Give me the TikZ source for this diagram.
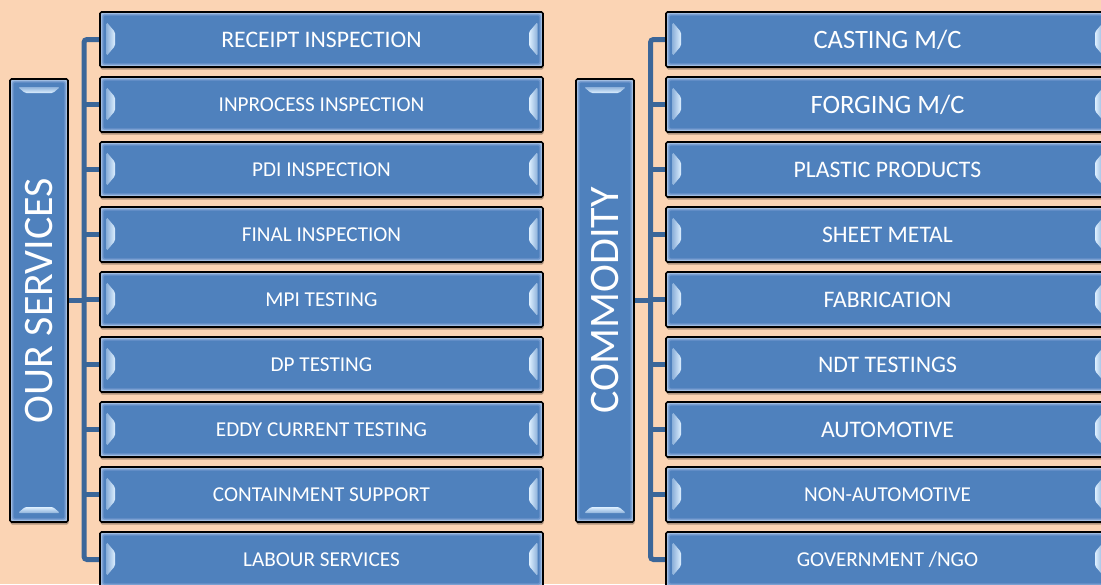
\documentclass[tikz,border=0pt]{standalone}
\usepackage{fontspec}
\setmainfont{Carlito}
\usepackage{graphicx}
\usetikzlibrary{shadows,calc}
\pgfdeclarelayer{backl}
\pgfdeclarelayer{connl}
\pgfsetlayers{backl,connl,main}
\definecolor{bg}{HTML}{FBD4B4}
\definecolor{boxblue}{HTML}{4F81BD}
\definecolor{rimA}{HTML}{B9CFEB}
\definecolor{rimB}{HTML}{93B2DC}
\definecolor{rimC}{HTML}{6D95CB}
\definecolor{hilite}{HTML}{DDEFFF}
\definecolor{connc}{HTML}{3B6699}
\newcommand\boxrim{%
  \coordinate (SW) at (path picture bounding box.south west);
  \coordinate (NE) at (path picture bounding box.north east);
  \coordinate (NW) at (SW |- NE);
  \coordinate (SE) at (NE |- SW);
  \fill[rimA] (SW) rectangle (NE);
  \fill[rimB] ($(SW)+(1.3pt,1.3pt)$) rectangle ($(NE)+(-1.3pt,-1.3pt)$);
  \fill[rimC] ($(SW)+(2.4pt,2.4pt)$) rectangle ($(NE)+(-2.4pt,-2.4pt)$);
  \fill[boxblue] ($(SW)+(3.6pt,3.6pt)$) rectangle ($(NE)+(-3.6pt,-3.6pt)$);
}
\newcommand\hbevel{%
  \shade[left color=hilite!45!boxblue, right color=hilite]
    ($(NW)+(6.5pt,-10pt)$) -- ($(NW)+(15pt,-20pt)$) -- ($(SW)+(15pt,21pt)$) -- ($(SW)+(6.5pt,11pt)$) -- cycle;
  \shade[left color=hilite, right color=hilite!45!boxblue]
    ($(NE)+(-5.5pt,-10pt)$) -- ($(NE)+(-14pt,-20pt)$) -- ($(SE)+(-14pt,21pt)$) -- ($(SE)+(-5.5pt,11pt)$) -- cycle;
}
\newcommand\vbevel{%
  \shade[top color=hilite!45!boxblue, bottom color=hilite]
    ($(NW)+(8pt,-8pt)$) -- ($(NE)+(-8pt,-8pt)$) -- ($(NE)+(-15pt,-14pt)$) -- ($(NW)+(15pt,-14pt)$) -- cycle;
  \shade[top color=hilite, bottom color=hilite!45!boxblue]
    ($(SW)+(8pt,9pt)$) -- ($(SE)+(-8pt,9pt)$) -- ($(SE)+(-15pt,15pt)$) -- ($(SW)+(15pt,15pt)$) -- cycle;
}
\tikzset{
  basebox/.style={draw=black, line width=1.6pt, rounded corners=1.5pt, fill=boxblue,
    text=white, inner sep=0pt,
    drop shadow={shadow xshift=0.5pt, shadow yshift=-2.5pt, opacity=0.3, fill=black}},
  hbox/.style={basebox, minimum width=443pt, minimum height=55pt,
    path picture={\boxrim\hbevel}},
  vbox/.style={basebox, minimum width=58pt, minimum height=443pt,
    path picture={\boxrim\vbevel}},
  conn/.style={draw=connc, line width=5pt, rounded corners=3pt},
  fA/.style={font=\fontsize{21.2}{25}\selectfont},
  fB/.style={font=\fontsize{23.7}{28}\selectfont},
  fC/.style={font=\fontsize{26.5}{31}\selectfont},
  fV/.style={font=\fontsize{42}{50}\selectfont},
}
\begin{document}
\begin{tikzpicture}[x=1pt,y=-1pt]
\begin{pgfonlayer}{backl}
\fill[bg] (0,0) rectangle (1101,584);
\end{pgfonlayer}
\useasboundingbox (0,0) rectangle (1101,584);
\clip (0,0) rectangle (1101,584);

% bus coordinates
\coordinate (lb) at (84,300);
\coordinate (rb) at (650.5,300);

% left column
\node[vbox, fV] (sv) at (39,300.5) {\rotatebox{90}{OUR SERVICES}};
\node[hbox, fB] (l1) at (321.5,39.5) {RECEIPT INSPECTION};
\node[hbox, fA] (l2) at (321.5,104.5) {INPROCESS INSPECTION};
\node[hbox, fA] (l3) at (321.5,169.5) {PDI INSPECTION};
\node[hbox, fA] (l4) at (321.5,234.5) {FINAL INSPECTION};
\node[hbox, fA] (l5) at (321.5,299.5) {MPI TESTING};
\node[hbox, fA] (l6) at (321.5,364.5) {DP TESTING};
\node[hbox, fA] (l7) at (321.5,429.5) {EDDY CURRENT TESTING};
\node[hbox, fA] (l8) at (321.5,494.5) {CONTAINMENT SUPPORT};
\node[hbox, fA] (l9) at (321.5,559.5) {LABOUR SERVICES};

% right column
\node[vbox, fV] (cm) at (605,300.5) {\rotatebox{90}{COMMODITY}};
\node[hbox, fC] (r1) at (887.5,39.5) {CASTING M/C};
\node[hbox, fC] (r2) at (887.5,104.5) {FORGING M/C};
\node[hbox, fB] (r3) at (887.5,169.5) {PLASTIC PRODUCTS};
\node[hbox, fB] (r4) at (887.5,234.5) {SHEET METAL};
\node[hbox, fB] (r5) at (887.5,299.5) {FABRICATION};
\node[hbox, fB] (r6) at (887.5,364.5) {NDT TESTINGS};
\node[hbox, fB] (r7) at (887.5,429.5) {AUTOMOTIVE};
\node[hbox, fA] (r8) at (887.5,494.5) {NON-AUTOMOTIVE};
\node[hbox, fA] (r9) at (887.5,559.5) {GOVERNMENT /NGO};

% connectors (behind boxes)
\begin{pgfonlayer}{connl}
\draw[conn] (l1.west) -| (lb) |- (l9.west);
\foreach \i in {2,...,8} \draw[conn] (l\i.west) -- (l\i.west -| lb);
\draw[conn] (sv.east) -- (sv.east -| lb);
\draw[conn] (r1.west) -| (rb) |- (r9.west);
\foreach \i in {2,...,8} \draw[conn] (r\i.west) -- (r\i.west -| rb);
\draw[conn] (cm.east) -- (cm.east -| rb);
\end{pgfonlayer}
\end{tikzpicture}
\end{document}
